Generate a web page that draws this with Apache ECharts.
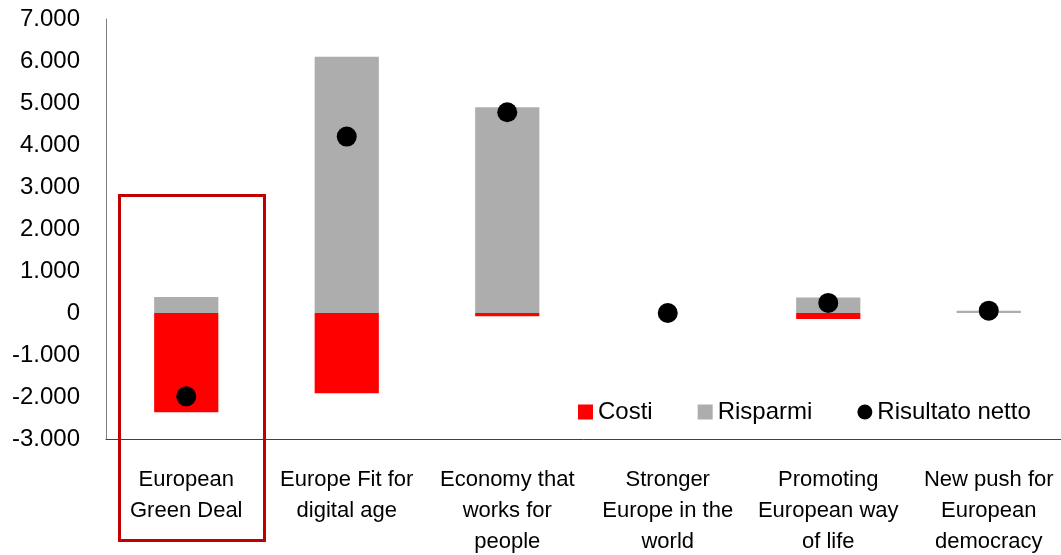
<!DOCTYPE html>
<html>
<head>
<meta charset="utf-8">
<script src="https://cdn.jsdelivr.net/npm/echarts@6/dist/echarts.min.js"></script>
<style>
  html, body { margin: 0; padding: 0; background: #fff; }
  #chart { width: 1061px; height: 555px; }
</style>
</head>
<body>
<div id="chart"></div>
<script>
var categories = [
  "European\nGreen Deal",
  "Europe Fit for\ndigital age",
  "Economy that\nworks for\npeople",
  "Stronger\nEurope in the\nworld",
  "Promoting\nEuropean way\nof life",
  "New push for\nEuropean\ndemocracy"
];
var costi = [-2365, -1910, -80, 0, -140, 0];
var risparmi = [380, 6100, 4900, 0, 370, 55];
var risultatoNetto = [-1985, 4200, 4780, 0, 240, 55];

var font = "'Liberation Sans', Arial, sans-serif";

var chart = echarts.init(document.getElementById("chart"));

var option = {
  animation: false,
  textStyle: { fontFamily: font },
  grid: { left: 106, right: -8, top: 19, bottom: 116, outerBoundsMode: "none" },
  legend: {
    left: 578,
    top: 400,
    padding: 0,
    width: 480,
    itemWidth: 15,
    itemHeight: 15,
    itemGap: 45,
    textStyle: { fontFamily: font, fontSize: 24, color: "#000" },
    data: [
      { name: "Costi", icon: "rect" },
      { name: "Risparmi", icon: "rect" },
      { name: "Risultato netto", icon: "circle" }
    ]
  },
  xAxis: [
    {
      type: "category",
      data: categories,
      axisLine: { show: false },
      axisTick: { show: false },
      axisLabel: {
        interval: 0,
        margin: 25,
        fontFamily: font,
        fontSize: 22,
        lineHeight: 31,
        color: "#000"
      }
    },
    {
      type: "category",
      data: categories,
      position: "bottom",
      axisLine: { onZero: true, lineStyle: { color: "#404040", width: 1 } },
      axisTick: { show: false },
      axisLabel: { show: false }
    }
  ],
  yAxis: {
    type: "value",
    min: -3000,
    max: 7000,
    interval: 1000,
    splitLine: { show: false },
    axisTick: { show: false },
    axisLine: { show: true, lineStyle: { color: "#808080", width: 1 } },
    axisLabel: {
      margin: 26,
      fontFamily: font,
      fontSize: 24,
      color: "#000",
      formatter: function (v) {
        var s = Math.abs(v).toString().replace(/\B(?=(\d{3})+(?!\d))/g, ".");
        return (v < 0 ? "-" : "") + s;
      }
    }
  },
  series: [
    {
      name: "Costi",
      type: "bar",
      data: costi,
      barWidth: "40%",
      barGap: "-100%",
      itemStyle: { color: "#FF0000" }
    },
    {
      name: "Risparmi",
      type: "bar",
      data: risparmi,
      barWidth: "40%",
      itemStyle: { color: "#ADADAD" }
    },
    {
      name: "Risultato netto",
      type: "scatter",
      data: risultatoNetto,
      symbol: "circle",
      symbolSize: 20,
      z: 5,
      itemStyle: { color: "#000", opacity: 1 }
    }
  ],
  graphic: [
    {
      type: "rect",
      shape: { x: 119.5, y: 195.5, width: 145, height: 345 },
      style: { fill: "none", stroke: "#C00000", lineWidth: 3 },
      z: 10
    }
  ]
};

chart.setOption(option);
</script>
</body>
</html>
